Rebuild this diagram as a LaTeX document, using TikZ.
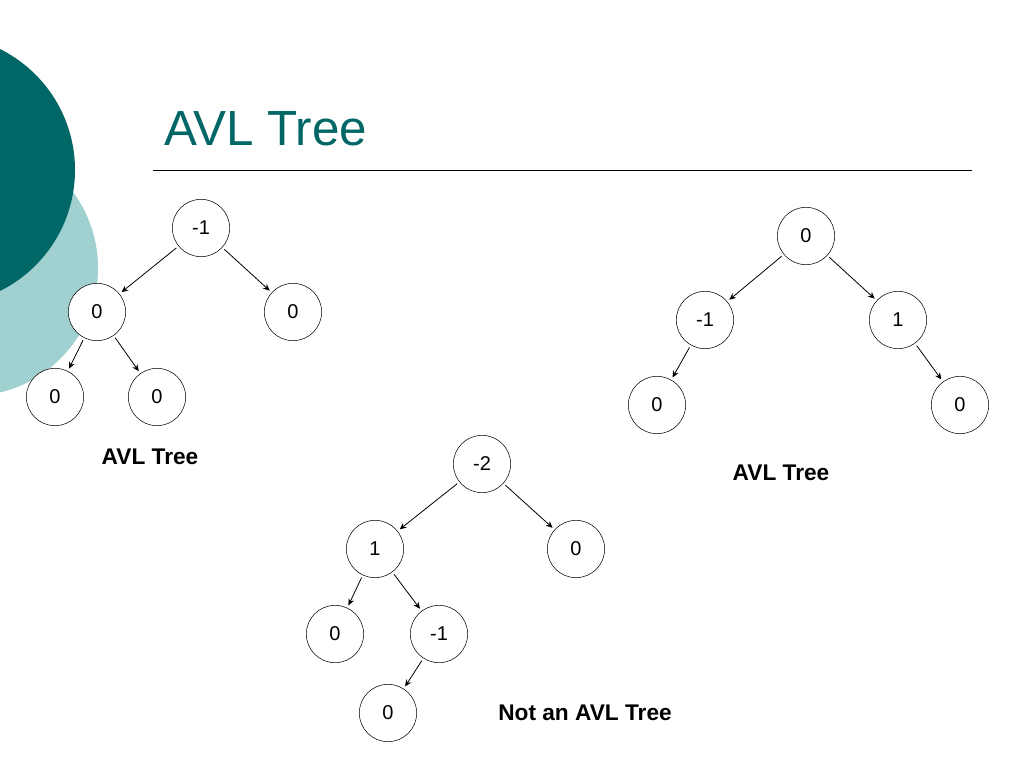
\documentclass[tikz,border=0pt]{standalone}
\usepackage{fontspec}
\usetikzlibrary{arrows.meta}
\setmainfont{Liberation Sans}
\definecolor{darkteal}{RGB}{0,102,102}
\definecolor{lightteal}{RGB}{160,208,208}
\begin{document}
\begin{tikzpicture}[x=0.75pt,y=-0.75pt,
  nd/.style={circle,draw,fill=white,minimum size=43pt,inner sep=0pt,font=\fontsize{15}{18}\selectfont},
  ar/.style={-{Stealth[length=5pt,width=4.5pt]},line width=0.6pt,shorten >=2pt,shorten <=2pt},
  lbl/.style={font=\fontsize{17}{20}\selectfont\bfseries}]
\useasboundingbox (0,0) rectangle (1024,768);
\fill[lightteal] (-30,268) circle (128);
\fill[darkteal] (-60,170) circle (135);
\node[anchor=base west,text=darkteal,font=\fontsize{37}{44}\selectfont,inner sep=0pt] (title) at (164,145) {AVL Tree};
\coordinate (l1) at (153,170); \coordinate (l2) at (972,170);
\draw (l1) -- (l2);
% tree 1
\node[nd] (a) at (201,228) {-1};
\node[nd] (b) at (97,312) {0};
\node[nd] (c) at (293,312) {0};
\node[nd] (d) at (55,397) {0};
\node[nd] (e) at (157,397) {0};
\draw[ar] (a) -- (b); \draw[ar] (a) -- (c);
\draw[ar] (b) -- (d); \draw[ar] (b) -- (e);
\node[lbl] (la) at (150,457) {AVL Tree};
% tree 2
\node[nd] (f) at (806,236) {0};
\node[nd] (g) at (705,320) {-1};
\node[nd] (h) at (898,320) {1};
\node[nd] (i) at (657,405) {0};
\node[nd] (j) at (960,405) {0};
\draw[ar] (f) -- (g); \draw[ar] (f) -- (h);
\draw[ar] (g) -- (i); \draw[ar] (h) -- (j);
\node[lbl] (lb) at (781,473) {AVL Tree};
% tree 3
\node[nd] (k) at (482,464) {-2};
\node[nd] (m) at (375,549) {1};
\node[nd] (n) at (576,549) {0};
\node[nd] (o) at (335,634) {0};
\node[nd] (p) at (439,634) {-1};
\node[nd] (q) at (388,713) {0};
\draw[ar] (k) -- (m); \draw[ar] (k) -- (n);
\draw[ar] (m) -- (o); \draw[ar] (m) -- (p);
\draw[ar] (p) -- (q);
\node[lbl] (lc) at (585,713) {Not an AVL Tree};
\end{tikzpicture}
\end{document}
